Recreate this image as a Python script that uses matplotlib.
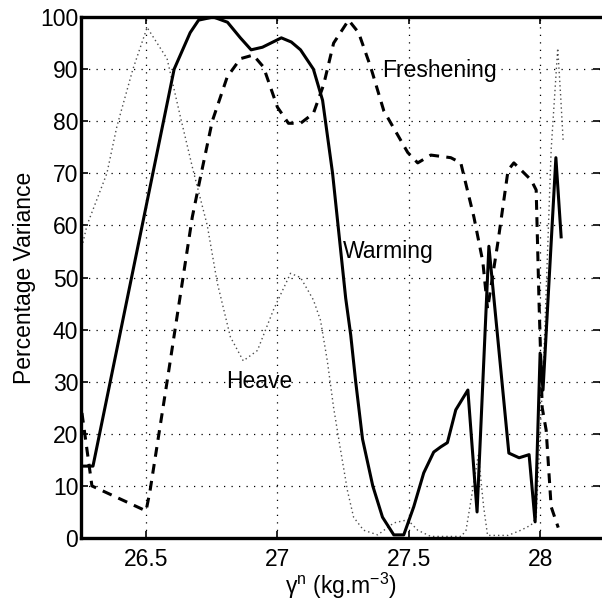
import numpy as np
import matplotlib
matplotlib.use("Agg")
from matplotlib import pyplot as plt

plt.rcParams['font.family'] = ['Liberation Sans', 'DejaVu Sans']
plt.rcParams['mathtext.default'] = 'regular'

# warming (solid)
warm_x = [26.252, 26.298, 26.607, 26.668, 26.70, 26.756, 26.81, 26.859, 26.90, 26.943,
          27.015, 27.053, 27.088, 27.137, 27.172, 27.21, 27.26, 27.279, 27.298, 27.324,
          27.363, 27.40, 27.443, 27.481, 27.519, 27.557, 27.595, 27.622, 27.647, 27.679,
          27.725, 27.76, 27.805, 27.881, 27.92, 27.958, 27.981, 28.0, 28.011, 28.06, 28.08]
warm_y = [13.8, 13.8, 90, 97, 99.4, 100, 99, 96, 93.7, 94.2,
          96, 95.2, 93.7, 90, 84, 70, 46, 39, 30, 19,
          10, 4, 0.6, 0.6, 6, 12.5, 16.5, 17.5, 18.3, 24.6,
          28.4, 5, 56, 16.3, 15.4, 16, 3.1, 35.5, 28.4, 73, 57.8]

# freshening (dashed)
fresh_x = [26.256, 26.294, 26.50, 26.515, 26.58, 26.676, 26.706, 26.752, 26.809, 26.859,
           26.908, 26.947, 27.0, 27.042, 27.088, 27.137, 27.176, 27.214, 27.271, 27.309,
           27.355, 27.405, 27.496, 27.534, 27.584, 27.66, 27.698, 27.748, 27.782, 27.80,
           27.84, 27.878, 27.90, 27.966, 27.985, 27.996, 28.008, 28.023, 28.042, 28.069]
fresh_y = [24, 10, 5.2, 9, 30, 61.6, 69, 80, 88.5, 92,
           92.7, 90.4, 82.7, 79.6, 79.6, 81.5, 87, 95, 99.4, 97,
           90.4, 82, 74, 72, 73.5, 73, 72, 61.6, 53, 44,
           57, 70.6, 72, 68.7, 66.8, 45, 25, 20.7, 6, 2]

# heave (dotted)
heave_x = [26.252, 26.275, 26.351, 26.389, 26.45, 26.504, 26.58, 26.63, 26.679, 26.733,
           26.771, 26.821, 26.87, 26.924, 26.985, 27.05, 27.088, 27.137, 27.164, 27.19,
           27.214, 27.24, 27.267, 27.29, 27.328, 27.382, 27.443, 27.496, 27.534, 27.584,
           27.70, 27.718, 27.737, 27.765, 27.785, 27.80, 27.878, 27.927, 27.966, 27.985,
           28.015, 28.042, 28.067, 28.078, 28.088]
heave_y = [55, 60, 70, 79, 90, 98, 92, 81, 70.6, 60,
           49, 38.6, 34, 36, 43.8, 50.8, 50, 45.7, 41.8, 34,
           25, 17, 9, 4, 1.5, 0.6, 2.9, 3.5, 1.5, 0.3,
           0.3, 1.5, 7.3, 16, 6, 0.5, 0.5, 1.5, 2.5, 4,
           36, 74.5, 94, 85, 76]

fs = 16.5

fig = plt.figure(figsize=(6.02, 6.01), dpi=100)
ax = fig.add_axes([0.1346, 0.1048, 0.8621, 0.8669])

ax.plot(heave_x, heave_y, color='0.3', lw=1.0, linestyle=(0, (1, 2.2)))
ax.plot(fresh_x, fresh_y, color='k', lw=2.2, linestyle=(0, (3.2, 2.4)))
ax.plot(warm_x, warm_y, color='k', lw=2.2)

ax.text(27.40, 89.8, 'Freshening', fontsize=fs, va='center', ha='left')
ax.text(27.25, 54.9, 'Warming', fontsize=fs, va='center', ha='left')
ax.text(26.805, 30, 'Heave', fontsize=fs, va='center', ha='left')

ax.set_xlim(26.2525, 28.228)
ax.set_ylim(0, 100)
ax.set_xticks([26.5, 27, 27.5, 28])
ax.set_xticklabels(['26.5', '27', '27.5', '28'])
ax.set_yticks(np.arange(0, 101, 10))
ax.tick_params(direction='in', length=5, width=1.2, top=True, right=True,
               labelsize=fs)
ax.tick_params(axis='x', pad=7)
ax.tick_params(axis='y', pad=2)
ax.grid(True, color='k', linestyle=(0, (1, 5)), lw=0.9)
for s in ['left', 'bottom', 'top']:
    ax.spines[s].set_linewidth(2.4)
ax.spines['right'].set_visible(False)

ax.set_xlabel(r'γ$^{n}$ (kg.m$^{-3}$)', fontsize=fs, labelpad=0)
ax.set_ylabel('Percentage Variance', fontsize=fs, labelpad=3)

fig.savefig('out.png', dpi=100)
